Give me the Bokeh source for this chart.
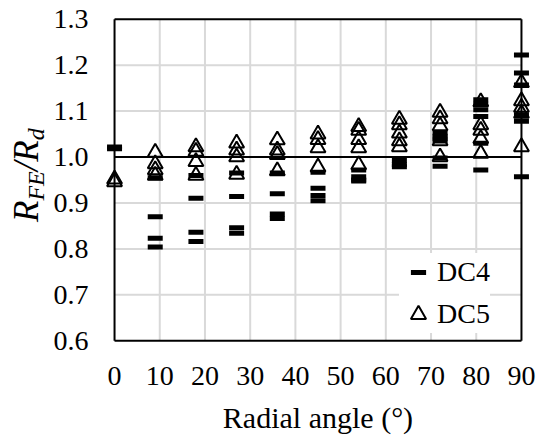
import math
from bokeh.plotting import figure
from bokeh.layouts import row
from bokeh.models import (FixedTicker, Legend, LegendItem, Range1d,
                          ColumnDataSource, PrintfTickFormatter)
from bokeh.core.properties import value
from bokeh.embed import file_html
from bokeh.resources import INLINE

# ---- data ----
angles = [0, 9, 18, 27, 36, 45, 54, 63, 72, 81, 90]
dc4_values = [
    [1.022, 1.018],
    [0.955, 0.870, 0.823, 0.804],
    [0.960, 0.910, 0.836, 0.816],
    [0.965, 0.914, 0.846, 0.834],
    [0.965, 0.920, 0.876, 0.866],
    [0.967, 0.932, 0.916, 0.905],
    [0.972, 0.957, 0.950, 0.948],
    [0.993, 0.984, 0.979],
    [1.052, 1.045, 1.040, 1.035, 0.998, 0.980],
    [1.125, 1.115, 1.103, 1.088, 1.030, 0.972],
    [1.222, 1.183, 1.157, 1.092, 1.078, 0.957],
]
dc5_values = [
    [0.952, 0.946],
    [1.010, 0.985, 0.972, 0.960],
    [1.022, 1.012, 0.990, 0.960],
    [1.030, 1.015, 1.000, 0.962],
    [1.037, 1.015, 1.005, 0.970],
    [1.050, 1.038, 1.020, 0.978],
    [1.066, 1.058, 1.038, 1.020, 0.983],
    [1.082, 1.070, 1.052, 1.035, 1.022],
    [1.097, 1.083, 1.068, 1.035, 1.000],
    [1.120, 1.070, 1.058, 1.040, 1.008],
    [1.162, 1.122, 1.108, 1.095, 1.022],
]
x_ticks = [0, 10, 20, 30, 40, 50, 60, 70, 80, 90]
y_ticks = [0.6, 0.7, 0.8, 0.9, 1.0, 1.1, 1.2, 1.3]
reference_value = 1.0
series_names = ["DC4", "DC5"]
x_title = "Radial angle (°)"
y_title_parts = ["R", "FE", "/R", "d"]   # R_FE / R_d

dc4_x = [a for a, vs in zip(angles, dc4_values) for _ in vs]
dc4_y = [v for vs in dc4_values for v in vs]
dc5_x = [a for a, vs in zip(angles, dc5_values) for _ in vs]
dc5_y = [v for vs in dc5_values for v in vs]

FONT = "Liberation Serif"
FS = "28px"
TITLE_W = 50            # width of the strip holding the rotated y title
W, H = 539, 436
TOP, BOTTOM = 16, 92    # frame borders (canvas px)

XPAD, YPAD = 2, 0.006
x0, x1 = x_ticks[0], x_ticks[-1]
y0, y1 = y_ticks[0], y_ticks[-1]

p = figure(width=W - TITLE_W, height=H, output_backend="svg", toolbar_location=None,
           x_range=Range1d(x0 - XPAD, x1 + XPAD),
           y_range=Range1d(y0 - YPAD, y1 + YPAD),
           min_border_left=103 - TITLE_W, min_border_right=9, min_border_top=TOP,
           min_border_bottom=BOTTOM)
p.background_fill_color = "white"
p.border_fill_color = "white"
p.outline_line_color = None
p.xgrid.visible = False
p.ygrid.visible = False

for ax in (p.xaxis, p.yaxis):
    ax.axis_line_color = None
    ax.major_tick_line_color = None
    ax.minor_tick_line_color = None
    ax.major_tick_out = 0
    ax.major_tick_in = 0
    ax.minor_tick_out = 0
    ax.minor_tick_in = 0
    ax.major_label_text_font = FONT
    ax.major_label_text_font_size = FS
    ax.major_label_text_color = "black"

p.xaxis.ticker = FixedTicker(ticks=x_ticks)
p.yaxis.ticker = FixedTicker(ticks=y_ticks)
p.yaxis.formatter = PrintfTickFormatter(format="%.1f")
p.xaxis.major_label_standoff = 23
p.yaxis.major_label_standoff = 17
p.xaxis.axis_label = x_title
p.xaxis.axis_label_text_font = FONT
p.xaxis.axis_label_text_font_size = "30px"
p.xaxis.axis_label_text_font_style = "normal"
p.xaxis.axis_label_text_color = "black"
p.xaxis.axis_label_standoff = 13

inner_x = x_ticks[1:-1]
inner_y = y_ticks[1:-1]
p.segment(x0=inner_x, y0=[y0] * len(inner_x), x1=inner_x, y1=[y1] * len(inner_x),
          line_color="#d9d9d9", line_width=2)
p.segment(x0=[x0] * len(inner_y), y0=inner_y, x1=[x1] * len(inner_y), y1=inner_y,
          line_color="#d9d9d9", line_width=2)
p.line([x0, x1], [reference_value, reference_value], line_color="black", line_width=2)
p.segment(x0=[x0, x1, x0, x0], y0=[y0, y0, y0, y1],
          x1=[x0, x1, x1, x1], y1=[y1, y1, y0, y1],
          line_color="black", line_width=2)

src4 = ColumnDataSource(dict(x=dc4_x, y=dc4_y))
src5 = ColumnDataSource(dict(x=dc5_x, y=dc5_y))
r4 = p.scatter("x", "y", source=src4, marker="dash", size=15,
               line_color="black", line_width=5)
r5 = p.scatter("x", "y", source=src5, marker="triangle", size=15,
               line_color="black", line_width=2, fill_color=None)

legend = Legend(items=[LegendItem(label=series_names[0], renderers=[r4]),
                       LegendItem(label=series_names[1], renderers=[r5])],
                location=(294, 10), orientation="vertical")
legend.glyph_width = 38
legend.glyph_height = 38
legend.label_height = 38
legend.spacing = 4
legend.padding = 4
legend.margin = 0
legend.label_standoff = 0
legend.border_line_color = None
legend.background_fill_color = "white"
legend.background_fill_alpha = 1
legend.label_text_font = FONT
legend.label_text_font_size = FS
legend.label_text_color = "black"
p.add_layout(legend, "center")

# ---- strip with the rotated y-axis title R_FE/R_d ----
# Its frame is aligned with the main frame (canvas y TOP .. H-BOTTOM), so the
# y range is chosen such that data y == H - canvas y.
t = figure(width=TITLE_W, height=H, output_backend="svg", toolbar_location=None,
           x_range=Range1d(0, TITLE_W), y_range=Range1d(BOTTOM, H - TOP),
           x_axis_type=None, y_axis_type=None,
           min_border_left=0, min_border_right=0, min_border_top=TOP,
           min_border_bottom=BOTTOM)
t.outline_line_color = None
t.background_fill_color = "white"
t.border_fill_color = "white"
t.xgrid.visible = False
t.ygrid.visible = False

main_size, sub_size = 35, 24
sizes = [main_size, sub_size, main_size, sub_size]
baselines = [38, 43, 38, 43]
em_widths = [0.611, 1.222, 0.889, 0.5]
cy = 222
for txt, sz, bx, ew in zip(y_title_parts, sizes, baselines, em_widths):
    length = ew * sz
    centre_y = cy - length / 2
    centre_x = bx - 0.33 * sz
    t.text(x=[centre_x], y=[H - centre_y], text=[txt], angle=math.pi / 2,
           text_font=value(FONT), text_font_size=value(f"{sz}px"),
           text_font_style="italic", text_color="black",
           text_align="center", text_baseline="middle")
    cy -= length

layout = row(t, p, spacing=0)
open("out.html", "w").write(file_html(layout, INLINE))
